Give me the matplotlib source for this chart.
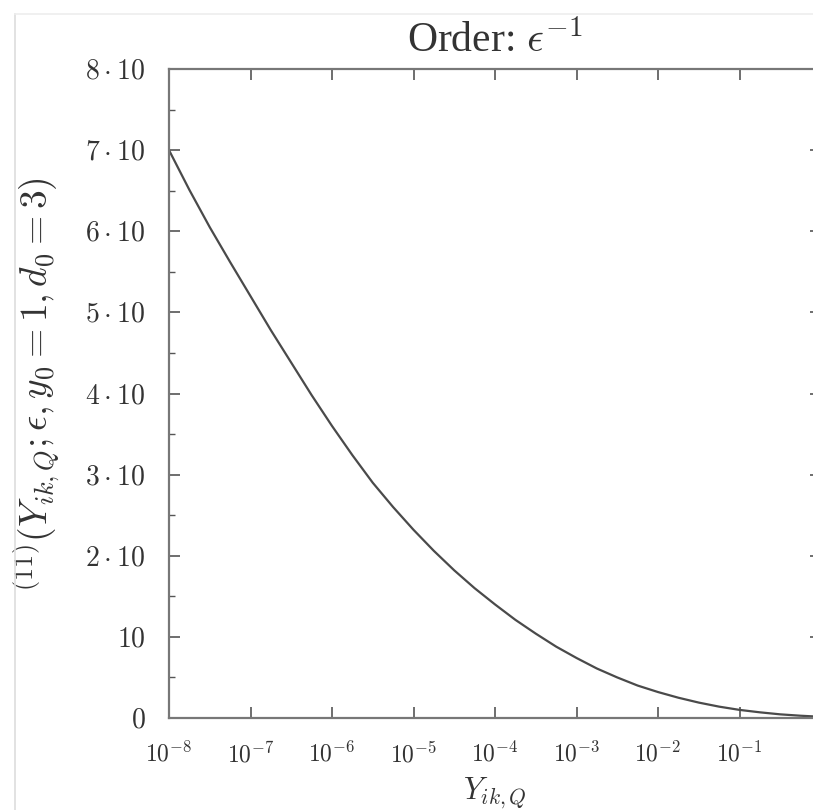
import matplotlib
matplotlib.use("Agg")
import matplotlib.pyplot as plt
import numpy as np
from matplotlib.lines import Line2D
from matplotlib.ticker import FixedLocator, NullLocator

plt.rcParams['mathtext.fontset'] = 'cm'
plt.rcParams['font.family'] = 'Liberation Serif'

# curve (log10 of Y_ik,Q, value)
log_y = [-8.0, -7.75, -7.5, -7.25, -7.0, -6.75, -6.5, -6.25, -6.0,
         -5.75, -5.5, -5.25, -5.0, -4.75, -4.5, -4.25, -4.0,
         -3.75, -3.5, -3.25, -3.0, -2.75, -2.5, -2.25, -2.0,
         -1.75, -1.5, -1.25, -1.0, -0.75, -0.5, -0.25, 0.0]
vals = [70.0, 65.1, 60.5, 56.2, 52.0, 47.8, 43.8, 39.8, 36.0,
        32.4, 29.0, 26.0, 23.2, 20.6, 18.2, 16.0, 14.0,
        12.1, 10.4, 8.8, 7.4, 6.1, 5.0, 4.0, 3.2,
        2.5, 1.9, 1.4, 1.0, 0.7, 0.45, 0.28, 0.15]

yticks = [0, 10, 20, 30, 40, 50, 60, 70, 80]
ytick_labels = ['$0$', '$10$', r'$2\cdot10$', r'$3\cdot10$', r'$4\cdot10$',
                r'$5\cdot10$', r'$6\cdot10$', r'$7\cdot10$', r'$8\cdot10$']
xticks = [1e-8, 1e-7, 1e-6, 1e-5, 1e-4, 1e-3, 1e-2, 1e-1]
xtick_labels = ['$10^{-8}$', '$10^{-7}$', '$10^{-6}$', '$10^{-5}$',
                '$10^{-4}$', '$10^{-3}$', '$10^{-2}$', '$10^{-1}$']

fig = plt.figure(figsize=(8.13, 8.10), dpi=100)
ax = fig.add_axes([169/813, 92/810, 652/813, 649/810])

x = 10.0 ** np.array(log_y)
ax.plot(x, vals, color='#4a4a4a', lw=1.6)

ax.set_xscale('log')
ax.set_xlim(1e-8, 1)
ax.set_ylim(0, 80)

ax.xaxis.set_major_locator(FixedLocator(xticks))
ax.xaxis.set_minor_locator(NullLocator())
ax.set_xticklabels(xtick_labels)
ax.set_yticks(yticks)
ax.set_yticklabels(ytick_labels)
ax.yaxis.set_minor_locator(FixedLocator(np.arange(5, 80, 10)))

ax.tick_params(which='both', direction='in', top=True, right=True,
               color='#555555', labelcolor='#333333')
ax.tick_params(which='major', length=8, width=1.2)
ax.tick_params(which='minor', length=4, width=1.0)
ax.tick_params(axis='x', pad=17, labelsize=17)
ax.tick_params(axis='y', pad=17, labelsize=20)

for s in ax.spines.values():
    s.set_color('#777777')
    s.set_linewidth(1.6)

ax.set_title(r'Order: $\epsilon^{-1}$', fontsize=30, color='#333333', pad=12)
ax.set_ylabel(r'$^{(11)}(Y_{ik,Q};\epsilon,y_0=1,d_0=3)$', fontsize=27,
              color='#333333')
ax.yaxis.set_label_coords(-0.165, 0.513)
ax.set_xlabel(r'$Y_{ik,Q}$', fontsize=22, color='#333333')
ax.xaxis.set_label_coords(0.5, -0.09)

# thin screenshot frame
fig.add_artist(Line2D([15/813, 15/813], [0, 1 - 14/810], color='#dddddd', lw=1.2,
                      transform=fig.transFigure))
fig.add_artist(Line2D([15/813, 1], [1 - 14/810, 1 - 14/810], color='#eeeeee', lw=1.2,
                      transform=fig.transFigure))

fig.savefig('out.png', dpi=100)
